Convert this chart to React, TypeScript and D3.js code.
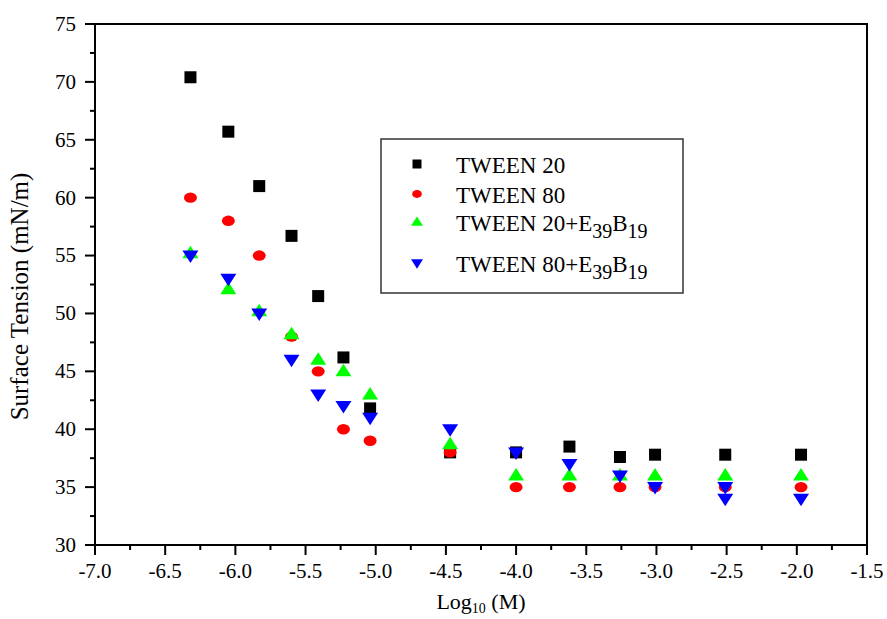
import React from "react";
import * as d3 from "d3";

const xT20 = [-6.32, -6.05, -5.83, -5.6, -5.41, -5.23, -5.04, -4.47, -4.0, -3.62, -3.26, -3.01, -2.51, -1.97];
const yT20 = [70.4, 65.7, 61.0, 56.7, 51.5, 46.2, 41.8, 38.0, 38.0, 38.5, 37.6, 37.8, 37.8, 37.8];
const xT80 = [-6.32, -6.05, -5.83, -5.6, -5.41, -5.23, -5.04, -4.47, -4.0, -3.62, -3.26, -3.01, -2.51, -1.97];
const yT80 = [60, 58, 55, 48, 45, 40, 39, 38, 35, 35, 35, 35, 35, 35];
const xT20E = [-6.32, -6.05, -5.83, -5.6, -5.41, -5.23, -5.04, -4.47, -4.0, -3.62, -3.26, -3.01, -2.51, -1.97];
const yT20E = [55.2, 52.1, 50.2, 48.2, 46.0, 45.0, 43.0, 38.7, 36.0, 36.0, 36.0, 36.0, 36.0, 36.0];
const xT80E = [-6.32, -6.05, -5.83, -5.6, -5.41, -5.23, -5.04, -4.47, -4.0, -3.62, -3.26, -3.01, -2.51, -2.51, -1.97];
const yT80E = [55.0, 53.0, 50.0, 46.0, 43.0, 42.0, 41.0, 40.0, 38.0, 37.0, 36.0, 35.0, 35.0, 34.0, 34.0];

const seriesNames = ["TWEEN 20", "TWEEN 80", "TWEEN 20+E", "TWEEN 80+E"];
const xTicks = [-7.0, -6.5, -6.0, -5.5, -5.0, -4.5, -4.0, -3.5, -3.0, -2.5, -2.0, -1.5];
const yTicks = [30, 35, 40, 45, 50, 55, 60, 65, 70, 75];

const W = 887, H = 619;
const L = 95, R = 867, T = 24, B = 545;
const FONT = "Liberation Serif, Times New Roman, DejaVu Serif, serif";

function Marker({ kind, x, y }: { kind: number; x: number; y: number }) {
  if (kind === 0) return <rect x={x - 6} y={y - 6} width={12} height={12} fill="#000" />;
  if (kind === 1) return <ellipse cx={x} cy={y} rx={6.5} ry={5.2} fill="#ff0000" />;
  if (kind === 2)
    return <path d={`M${x},${y - 7.5}L${x + 8},${y + 5}L${x - 8},${y + 5}Z`} fill="#00ff00" />;
  return <path d={`M${x},${y + 7.5}L${x + 8},${y - 5}L${x - 8},${y - 5}Z`} fill="#0000ff" />;
}

export default function App() {
  const x = d3.scaleLinear().domain([-7, -1.5]).range([L, R]);
  const y = d3.scaleLinear().domain([30, 75]).range([B, T]);
  const series = [
    [xT20, yT20],
    [xT80, yT80],
    [xT20E, yT20E],
    [xT80E, yT80E],
  ];
  const xMinor = d3.range(-7, -1.5 + 1e-9, 0.25);
  const yMinor = d3.range(30, 75 + 1e-9, 2.5);
  const legendY = [164, 194, 222, 263];
  return (
    <svg width={W} height={H} style={{ position: "absolute", left: 0, top: 0, background: "#fff" }}>
      <rect x={0} y={0} width={W} height={H} fill="#fff" />
      <rect x={L} y={T} width={R - L} height={B - T} fill="none" stroke="#000" strokeWidth={2} />
      {yMinor.map((v, i) => {
        const major = Math.abs(v % 5) < 1e-6;
        return <line key={"ym" + i} x1={L - (major ? 10 : 5)} x2={L} y1={y(v)} y2={y(v)} stroke="#000" strokeWidth={2} />;
      })}
      {xMinor.map((v, i) => {
        const major = Math.abs((v * 2) % 1) < 1e-6;
        return <line key={"xm" + i} x1={x(v)} x2={x(v)} y1={B} y2={B + (major ? 10 : 5)} stroke="#000" strokeWidth={2} />;
      })}
      {yTicks.map((v) => (
        <text key={"yt" + v} x={L - 19} y={y(v)} dy="0.33em" textAnchor="end" fontFamily={FONT} fontSize={21} fill="#000">
          {v}
        </text>
      ))}
      {xTicks.map((v) => (
        <text key={"xt" + v} x={x(v)} y={B + 26} dy="0.33em" textAnchor="middle" fontFamily={FONT} fontSize={21} fill="#000">
          {v.toFixed(1)}
        </text>
      ))}
      <text transform={`translate(20,${(T + B) / 2 + 12}) rotate(-90)`} textAnchor="middle" dy="0.33em" fontFamily={FONT} fontSize={25} fill="#000">
        Surface Tension (mN/m)
      </text>
      <text x={481} y={609} textAnchor="middle" fontFamily={FONT} fontSize={22} fill="#000">
        Log<tspan fontSize={14} dy={4}>10</tspan><tspan dy={-4}> (M)</tspan>
      </text>
      {series.map(([xs, ys], si) =>
        xs.map((xv, i) => <Marker key={si + "-" + i} kind={si} x={x(xv)} y={y(ys[i])} />)
      )}
      <rect x={381} y={139} width={302} height={154} fill="#fff" stroke="#333" strokeWidth={1.5} />
      {seriesNames.map((n, i) => (
        <g key={n}>
          <g transform={`translate(417,${legendY[i]}) scale(0.75) translate(-417,${-legendY[i]})`}>
            <Marker kind={i} x={417} y={legendY[i]} />
          </g>
          <text x={456} y={legendY[i] + 1} dy="0.33em" fontFamily={FONT} fontSize={23} fill="#000">
            {i < 2 ? n : (
              <>
                {n}
                <tspan fontSize={20} dy={7}>39</tspan>
                <tspan dy={-7}>B</tspan>
                <tspan fontSize={20} dy={7}>19</tspan>
              </>
            )}
          </text>
        </g>
      ))}
    </svg>
  );
}
